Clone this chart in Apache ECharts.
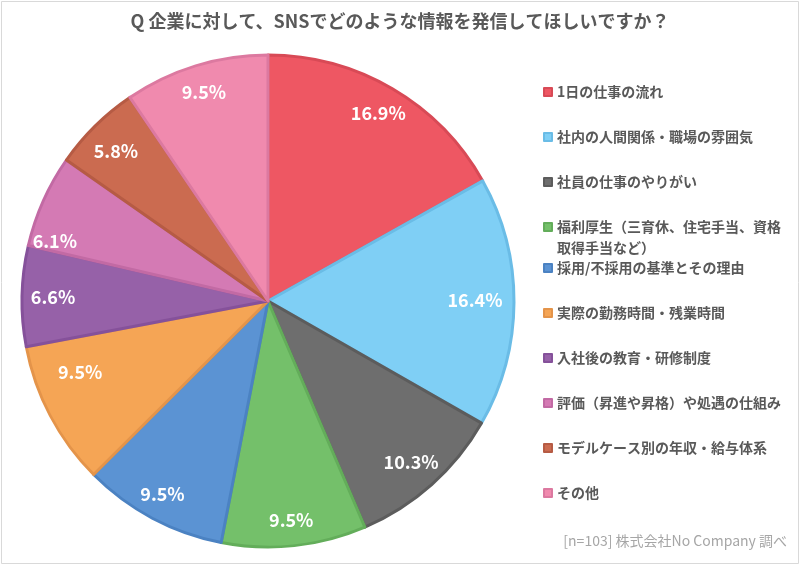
<!DOCTYPE html>
<html><head><meta charset="utf-8">
<script src="https://cdn.jsdelivr.net/npm/echarts@6/dist/echarts.min.js"></script>
<style>html,body{margin:0;padding:0;background:#fff}#c{width:800px;height:565px}</style>
</head><body><div id="c"></div>
<script>
const titleText = 'Q 企業に対して、SNSでどのような情報を発信してほしいですか？';
const sourceText = '[n=103] 株式会社No Company 調べ';
const categories = [
  '1日の仕事の流れ',
  '社内の人間関係・職場の雰囲気',
  '社員の仕事のやりがい',
  '福利厚生（三育休、住宅手当、資格取得手当など）',
  '採用/不採用の基準とその理由',
  '実際の勤務時間・残業時間',
  '入社後の教育・研修制度',
  '評価（昇進や昇格）や処遇の仕組み',
  'モデルケース別の年収・給与体系',
  'その他'
];
const values = [16.9, 16.4, 10.3, 9.5, 9.5, 9.5, 6.6, 6.1, 5.8, 9.5];
const fillColors = ['#EE5763','#7FCFF5','#6E6E6E','#74C06A','#5B93D3','#F5A555','#9661A8','#D47AB4','#CB6B50','#F08AAE'];
const edgeColors = ['#D84A56','#6ABCE6','#5C5C5C','#63AD5A','#4B82C2','#E4944A','#85519A','#C26AA4','#B65B44','#DC79A0'];
// style-only nudges of the value labels (Excel "best fit" placement)
const labelNudge = [[0,0],[-11,-2],[-2,-2],[0,2],[-3,1],[5,-30],[3,1],[-14,29],[1,5],[0,0]];

const fontFam = '"Noto Sans CJK JP", "Noto Sans", sans-serif';
const mainData = categories.map((n, i) => ({
  name: n, value: values[i],
  itemStyle: { color: fillColors[i], borderColor: edgeColors[i], borderWidth: 3 }
}));
const labelData = categories.map((n, i) => ({ name: n, value: values[i] }));

const legendText = { color: '#595959', fontSize: 14, fontWeight: 'bold', fontFamily: fontFam, lineHeight: 21 };
const legendBase = {
  orient: 'vertical', left: 543, itemWidth: 8, itemHeight: 8, itemGap: 24,
  padding: 0, icon: 'rect', textStyle: legendText, selectedMode: false
};

const chart = echarts.init(document.getElementById('c'));
chart.setOption({
  backgroundColor: '#fff',
  animation: false,
  title: [
    { text: titleText, left: 'center', top: 7,
      textStyle: { color: '#595959', fontSize: 18, fontWeight: 'bold', fontFamily: fontFam } },
    { text: sourceText, right: 8, bottom: 12,
      textStyle: { color: '#A6A6A6', fontSize: 14, fontWeight: 'normal', fontFamily: fontFam } }
  ],
  legend: [
    Object.assign({}, legendBase, { top: 81.5, data: categories.slice(0, 3) }),
    Object.assign({}, legendBase, { top: 195.5, data: [categories[3]],
      formatter: () => ' \n福利厚生（三育休、住宅手当、資格\n取得手当など）' }),
    Object.assign({}, legendBase, { top: 257.5, data: categories.slice(4) })
  ],
  graphic: [{
    type: 'rect', shape: { x: 1.5, y: 1.5, width: 797, height: 562 },
    style: { fill: 'none', stroke: '#D9D9D9', lineWidth: 1 }, silent: true
  }],
  series: [
    {
      type: 'pie', center: [268, 301], radius: 246, startAngle: 90, clockwise: true,
      label: { show: false }, labelLine: { show: false }, emphasis: { disabled: true },
      data: mainData
    },
    {
      type: 'pie', center: [268, 301], radius: [183, 247], startAngle: 90, clockwise: true,
      silent: true, emphasis: { disabled: true },
      itemStyle: { color: 'rgba(0,0,0,0)', borderWidth: 0 },
      label: { show: true, position: 'inside', formatter: p => p.value.toFixed(1) + '%',
        color: '#fff', fontSize: 18, fontWeight: 'bold', fontFamily: fontFam },
      labelLine: { show: false },
      labelLayout: p => ({ dx: labelNudge[p.dataIndex][0], dy: labelNudge[p.dataIndex][1] }),
      data: labelData
    }
  ]
});
</script></body></html>
